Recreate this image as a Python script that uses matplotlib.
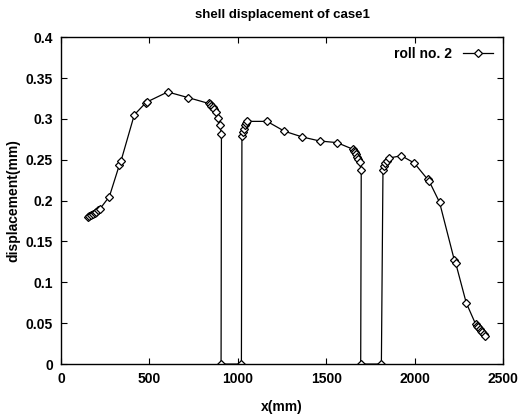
import matplotlib
matplotlib.use('Agg')
import matplotlib.pyplot as plt

plt.rcParams['font.family'] = ['Liberation Sans', 'DejaVu Sans']

# -----------------------------------------------------------------------------
# Data (x in mm, displacement in mm)
# -----------------------------------------------------------------------------

x_mm = [150, 160, 170, 180, 190, 200, 210, 220,
        273, 330, 338, 414, 480, 488, 603, 720,
        834, 842, 850, 858, 866, 874, 886, 897, 907, 905,
        1020, 1023, 1028, 1033, 1040, 1046, 1052,
        1165, 1263, 1363, 1463, 1561,
        1650, 1656, 1662, 1668, 1674, 1682, 1689, 1698, 1695,
        1812, 1821, 1826, 1834, 1842, 1853,
        1925, 1998, 2074, 2082, 2141, 2225, 2232, 2292,
        2345, 2352, 2360, 2368, 2376, 2384, 2392, 2400]
disp_mm = [0.180, 0.181, 0.182, 0.184, 0.185, 0.186, 0.188, 0.190,
           0.205, 0.244, 0.248, 0.305, 0.320, 0.321, 0.333, 0.326,
           0.319, 0.318, 0.316, 0.314, 0.312, 0.309, 0.301, 0.293, 0.282, 0.0,
           0.0, 0.279, 0.284, 0.288, 0.292, 0.295, 0.297,
           0.297, 0.285, 0.278, 0.273, 0.271,
           0.263, 0.261, 0.259, 0.257, 0.254, 0.251, 0.247, 0.237, 0.0,
           0.0, 0.237, 0.242, 0.246, 0.249, 0.252,
           0.255, 0.246, 0.226, 0.224, 0.198, 0.127, 0.124, 0.075,
           0.049, 0.047, 0.045, 0.043, 0.041, 0.039, 0.037, 0.034]

x_ticks = [0, 500, 1000, 1500, 2000, 2500]
y_ticks = [0, 0.05, 0.1, 0.15, 0.2, 0.25, 0.3, 0.35, 0.4]
y_tick_labels = ['0', '0.05', '0.1', '0.15', '0.2', '0.25', '0.3', '0.35', '0.4']


# -----------------------------------------------------------------------------
# Plot
# -----------------------------------------------------------------------------

fig = plt.figure(figsize=(5.18, 4.18), dpi=100)
ax = fig.add_axes([0.118, 0.129, 0.853, 0.782])

ax.plot(x_mm, disp_mm, color='black', linewidth=0.9,
        marker='D', markersize=4, markerfacecolor='white',
        markeredgecolor='black', markeredgewidth=0.9, label='roll no. 2')

ax.set_xlim(0, 2500)
ax.set_ylim(0, 0.4)
ax.set_xticks(x_ticks)
ax.set_yticks(y_ticks)
ax.set_yticklabels(y_tick_labels)
ax.tick_params(direction='in', top=True, right=True, length=4,
               labelsize=10, pad=6)
for lab in ax.get_xticklabels() + ax.get_yticklabels():
    lab.set_fontweight('bold')
for sp in ax.spines.values():
    sp.set_linewidth(1.0)

ax.set_title('shell displacement of case1', fontsize=9.5, fontweight='bold', pad=14)
ax.set_xlabel('x(mm)', fontsize=10, fontweight='bold', labelpad=10)
ax.set_ylabel('displacement(mm)', fontsize=10, fontweight='bold', labelpad=4)

leg = ax.legend(loc='upper right', frameon=False, markerfirst=False,
                handlelength=2.2, fontsize=10, borderaxespad=0.3)
for t in leg.get_texts():
    t.set_fontweight('bold')

fig.savefig('out.png', dpi=100)
